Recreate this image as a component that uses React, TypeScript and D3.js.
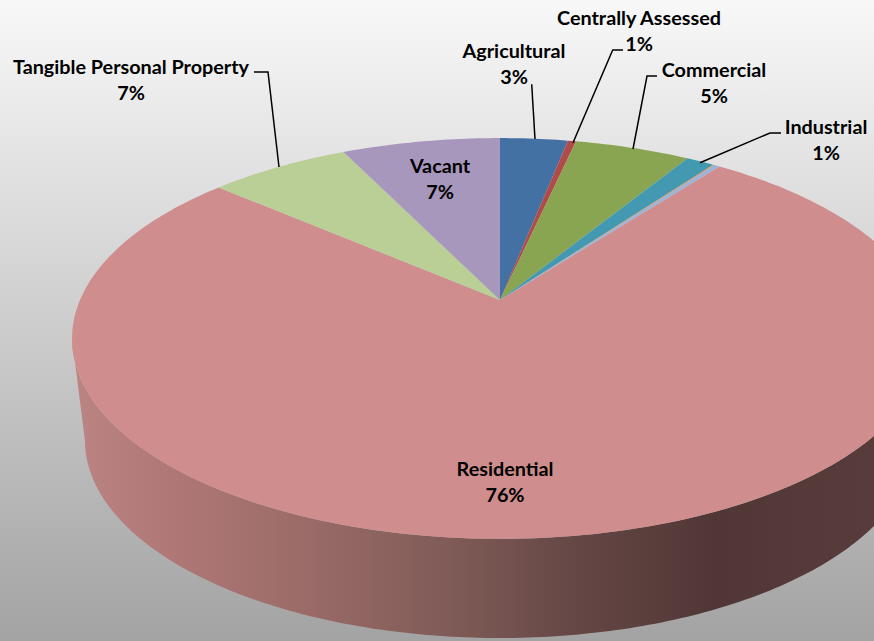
import React from "react";
import * as d3 from "d3";

const categories = ["Agricultural", "Centrally Assessed", "Commercial", "Industrial", "Other A", "Other B", "Residential", "Tangible Personal Property", "Vacant"];
const shares = [3.08, 0.37, 5.25, 1.27, 0.07, 0.26, 76.1, 6.4, 7.2];
const percentLabels = ["3%", "1%", "5%", "1%", "", "", "76%", "7%", "7%"];
const sliceColors = ["#4471a3", "#b14b49", "#8aa551", "#4299b1", "#e08c3e", "#9db3da", "#cf8e8d", "#b9cf96", "#a897bd"];

const W = 874, H = 641;
const apexX = 500, apexY = 300, radiusX = 420, radiusY = 193, persp = 0.192;
const drop = 102, shrinkX = 0.97, shrinkY = 0.988;

function project(angle: number, r: number, bottom = false): [number, number] {
  const u = r * Math.sin(angle), v = r * Math.cos(angle);
  const w = 1 + persp * v;
  const sx = d3.scaleLinear().domain([-1, 1]).range([apexX - radiusX * (bottom ? shrinkX : 1), apexX + radiusX * (bottom ? shrinkX : 1)]);
  const sy = d3.scaleLinear().domain([-1, 1]).range([
    apexY + (bottom ? drop : 0) + radiusY * (bottom ? shrinkY : 1),
    apexY + (bottom ? drop : 0) - radiusY * (bottom ? shrinkY : 1),
  ]);
  return [sx(u / w), sy(v / w)];
}

const line = d3.line<[number, number]>();
const pie = d3.pie<number>().sort(null).startAngle(0).endAngle(2 * Math.PI);
const arcs = pie(shares);

function slicePath(a0: number, a1: number) {
  const n = Math.max(2, Math.ceil((a1 - a0) * 60));
  const pts: [number, number][] = [project(0, 0)];
  d3.range(n + 1).forEach((i) => pts.push(project(a0 + ((a1 - a0) * i) / n, 1)));
  return line(pts) + "Z";
}

const tangent = Math.PI / 2 + Math.asin(persp);
const wallTop = d3.range(0, 201).map((i) => project(tangent + ((2 * Math.PI - 2 * tangent) * i) / 200, 1));
const wallBottom = d3.range(0, 201).map((i) => project(tangent + ((2 * Math.PI - 2 * tangent) * (200 - i)) / 200, 1, true));
const wallPath = line([...wallTop, ...wallBottom]) + "Z";

const wallStops = [
  ["0%", "#bb8584"], ["12%", "#b07877"], ["28%", "#9c6c69"], ["48%", "#7e5a56"],
  ["62%", "#664846"], ["80%", "#503736"], ["100%", "#573c3b"],
];

const labelLayout: Record<string, { x: number; y: number }> = {
  "Agricultural": { x: 514, y: 58 },
  "Centrally Assessed": { x: 639, y: 25 },
  "Commercial": { x: 714, y: 77 },
  "Industrial": { x: 826, y: 134 },
  "Residential": { x: 505, y: 476 },
  "Tangible Personal Property": { x: 131, y: 74 },
  "Vacant": { x: 440, y: 173 },
};
const leaders: [number, number][][] = [
  [[531.7, 84.3], [535, 139]],
  [[573, 142.7], [612.7, 50], [623, 50]],
  [[633, 149], [647, 76], [657, 76]],
  [[700, 162.7], [770, 133], [781, 133]],
  [[279, 167], [268, 72], [254, 72]],
];

export default function App() {
  return (
    <svg width={W} height={H} viewBox={`0 0 ${W} ${H}`} style={{ position: "absolute", left: 0, top: 0 }}>
      <defs>
        <linearGradient id="bg" x1="0" y1="0" x2="0" y2="1">
          <stop offset="0%" stopColor="#f8f8f8" />
          <stop offset="100%" stopColor="#a3a3a3" />
        </linearGradient>
        <linearGradient id="wall" gradientUnits="userSpaceOnUse" x1={72} y1={0} x2={874} y2={0}>
          {wallStops.map(([o, c]) => <stop key={o} offset={o} stopColor={c} />)}
        </linearGradient>
      </defs>
      <rect width={W} height={H} fill="url(#bg)" />
      <path d={wallPath} fill="url(#wall)" />
      {arcs.map((a, i) => (
        <path key={categories[i]} d={slicePath(a.startAngle, a.endAngle)} fill={sliceColors[i]} />
      ))}
      {leaders.map((l, i) => (
        <path key={i} d={line(l) as string} fill="none" stroke="#000" strokeWidth={1.5} />
      ))}
      {categories.map((c, i) => {
        const p = labelLayout[c];
        if (!p) return null;
        return (
          <text key={c} transform={`translate(${p.x},${p.y}) scale(1.1,1)`} textAnchor="middle" fontFamily="Lato, 'Open Sans', sans-serif" fontWeight={700} fontSize={18} fill="#000">
            <tspan x={0}>{c}</tspan>
            <tspan x={0} dy={26}>{percentLabels[i]}</tspan>
          </text>
        );
      })}
    </svg>
  );
}
